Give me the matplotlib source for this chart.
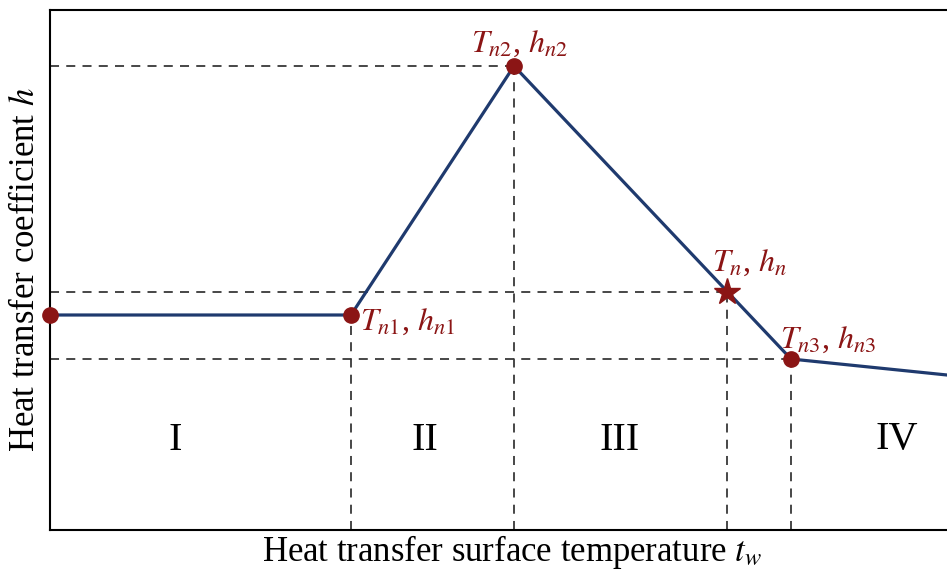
import matplotlib.pyplot as plt

plt.rcParams['font.family'] = ['Liberation Serif', 'DejaVu Serif']
plt.rcParams['mathtext.fontset'] = 'stix'

# curve knots (surface temperature vs heat transfer coefficient, arbitrary units)
temps = [0.0, 30.1, 46.4, 74.1, 89.7]
coefs = [21.5, 21.5, 46.4, 17.1, 15.5]

# operating point (star)
star_t = 67.7
star_h = 23.8

# labelled knots
knot_t = [30.1, 46.4, 74.1]
knot_h = [21.5, 46.4, 17.1]
knot_labels = [r'$T_{n1}$, $h_{n1}$', r'$T_{n2}$, $h_{n2}$', r'$T_{n3}$, $h_{n3}$']
knot_offsets = [(6.5, -5), (4, 16), (-8, 14)]
knot_ha = ['left', 'center', 'left']

regions = ['I', 'II', 'III', 'IV']
region_t = [12.5, 37.5, 57.0, 84.7]
region_h = 9.0

red = '#8b1515'
navy = '#1f3a6e'
dash = '#383838'

fig = plt.figure(figsize=(9.47, 5.75), dpi=100)
ax = fig.add_axes([50 / 947, 45 / 575, 1 - 50 / 947, 520 / 575])
ax.set_xlim(0, 89.7)
ax.set_ylim(0, 52)

# guide lines
for t, h in zip(knot_t + [star_t], knot_h + [star_h]):
    ax.plot([t, t], [0, h], color=dash, lw=1.3, ls=(0, (5, 4)), zorder=1)
for t, h in zip(knot_t[1:] + [star_t], knot_h[1:] + [star_h]):
    ax.plot([0, t], [h, h], color=dash, lw=1.3, ls=(0, (5, 4)), zorder=1)

ax.plot(temps, coefs, color=navy, lw=2.3, zorder=2)
ax.plot([temps[0]] + knot_t, [coefs[0]] + knot_h, 'o', color=red, ms=11,
        clip_on=False, zorder=3)
ax.plot([star_t], [star_h], '*', color=red, ms=20, zorder=3)

for t, h, lab, off, ha in zip(knot_t, knot_h, knot_labels, knot_offsets, knot_ha):
    ax.annotate(lab, (t, h), xytext=off, textcoords='offset points',
                ha=ha, va='center', color=red, fontsize=23)
ax.annotate(r'$T_n$, $h_n$', (star_t, star_h), xytext=(-11, 21),
            textcoords='offset points', ha='left', va='center', color=red,
            fontsize=23)

for lab, t in zip(regions, region_t):
    ax.text(t, region_h, lab, ha='center', va='center', fontsize=29)

ax.set_xticks([])
ax.set_yticks([])
ax.spines['right'].set_visible(False)
for s in ['left', 'top', 'bottom']:
    ax.spines[s].set_linewidth(1.5)

ax.set_xlabel(r'Heat transfer surface temperature $t_w$', fontsize=25)
ax.xaxis.set_label_coords(0.515, -0.006, transform=ax.transAxes)
ax.xaxis.label.set_va('top')
ax.set_ylabel(r'Heat transfer coefficient $h$', fontsize=25, labelpad=6)

fig.savefig('out.png', dpi=100)
